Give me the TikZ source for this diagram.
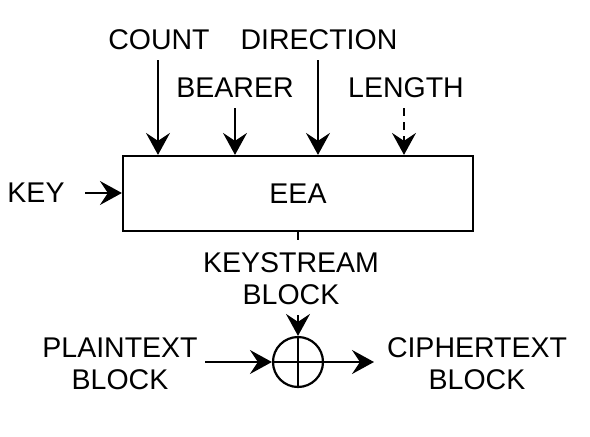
\documentclass[tikz,border=0pt]{standalone}
\usepackage{fontspec}
\setmainfont{Liberation Sans}
\usetikzlibrary{arrows.meta}
\begin{document}
\begin{tikzpicture}[x=1pt,y=-1pt,
  lbl/.style={font=\fontsize{28.5}{32}\selectfont, inner sep=0pt, align=center},
  conn/.style={line width=2.3pt, -{Stealth[length=22pt,width=24pt,inset=8pt]}},
  blk/.style={draw, line width=2.2pt, inner sep=0pt}]
\useasboundingbox (0,0) rectangle (590,437);
\node[blk, minimum width=350pt, minimum height=75pt] (eea) at (298,193.5) {};
\node[lbl] (eeal) at (298,193.5) {EEA};
\node[lbl] (count) at (159,40) {COUNT};
\node[lbl] (dir) at (319,40) {DIRECTION};
\node[lbl] (bearer) at (235,88) {BEARER};
\node[lbl] (length) at (406,88) {LENGTH};
\node[lbl] (key) at (36,193) {KEY};
\node[lbl] (ks) at (291,279) {KEYSTREAM\\BLOCK};
\node[lbl] (pt) at (120,364) {PLAINTEXT\\BLOCK};
\node[lbl] (ct) at (477,364) {CIPHERTEXT\\BLOCK};
\node[draw, circle, line width=2.2pt, minimum size=50pt, inner sep=0pt] (xor) at (298,362) {};
\draw[line width=2.2pt] (xor.north) -- (xor.south) (xor.west) -- (xor.east);
\coordinate (c1) at (158,60);
\coordinate (c2) at (235,108);
\coordinate (c3) at (318,60);
\coordinate (c4) at (404,108);
\coordinate (k1) at (85,193);
\coordinate (ks1) at (298,240);
\coordinate (ks2) at (298,315);
\coordinate (p1) at (205,362);
\coordinate (o1) at (374,362);
\draw[conn] (c1) -- (c1 |- eea.north);
\draw[conn] (c2) -- (c2 |- eea.north);
\draw[conn] (c3) -- (c3 |- eea.north);
\draw[conn, dashed, dash pattern=on 8pt off 6pt] (c4) -- (c4 |- eea.north);
\draw[conn] (k1) -- (k1 -| eea.west);
\draw[line width=2.2pt] (eea.south) -- (ks1);
\draw[conn] (ks2) -- (xor.north);
\draw[conn] (p1) -- (xor.west);
\draw[conn] (xor.east) -- (o1);
\end{tikzpicture}
\end{document}
